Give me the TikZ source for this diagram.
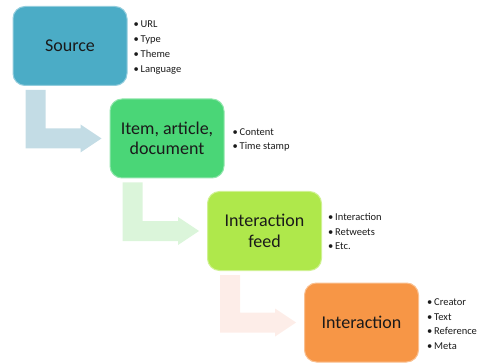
\documentclass[tikz,border=0pt]{standalone}
\usepackage{fontspec}
\setmainfont{Carlito}
\usetikzlibrary{calc}

\definecolor{srcfill}{HTML}{4BACC6}
\definecolor{itemfill}{HTML}{4AD677}
\definecolor{feedfill}{HTML}{AFE84B}
\definecolor{interfill}{HTML}{F79646}
\definecolor{srcarrow}{HTML}{C3DCE5}
\definecolor{itemarrow}{HTML}{DBF5DA}
\definecolor{feedarrow}{HTML}{FDEDE8}
\definecolor{ink}{HTML}{1A1A1A}

% one bullet line of a note list
\newcommand\itm[1]{\makebox[7pt][l]{\textbullet}#1}

% bent block arrow: down out of box #1, then right into box #2
\newcommand\bentarrow[3]{%
  \fill[#3] let \p1=(#1.south west), \p2=(#2.west) in
    (\x1+13pt,\y1-4pt) -- (\x1+33pt,\y1-4pt) -- (\x1+33pt,\y2+10pt)
    -- (\x2-29pt,\y2+10pt) -- (\x2-29pt,\y2+14pt) -- (\x2-8pt,\y2)
    -- (\x2-29pt,\y2-14pt) -- (\x2-29pt,\y2-10pt) -- (\x1+13pt,\y2-10pt)
    -- cycle;}

\begin{document}
\begin{tikzpicture}[x=1pt,y=-1pt,
  stage/.style={rounded corners=12pt, line width=1pt, minimum width=114pt,
    minimum height=79pt, inner sep=0pt, align=center, text=ink,
    font=\fontsize{18}{20.5}\selectfont},
  notes/.style={anchor=west, align=left, inner sep=0pt, text=ink,
    font=\fontsize{10.5}{14.7}\selectfont}]
  \useasboundingbox (0,0) rectangle (481,363);

  % stage boxes
  \node[stage, fill=srcfill, draw=srcfill!60!white] (src) at (70,46) {Source};
  \node[stage, fill=itemfill, draw=itemfill!60!white] (item) at (167,138.5) {Item, article,\\document};
  \node[stage, fill=feedfill, draw=feedfill!60!white] (feed) at (264.5,231) {Interaction\\feed};
  \node[stage, fill=interfill, draw=interfill!60!white] (inter) at (361.5,322.5) {Interaction};

  % attribute lists
  \node[notes] (srcnotes) at ($(src.east)+(6,1.5)$) {\itm{URL}\\\itm{Type}\\\itm{Theme}\\\itm{Language}};
  \node[notes] (itemnotes) at ($(item.east)+(8,1.5)$) {\itm{Content}\\\itm{Time stamp}};
  \node[notes] (feednotes) at ($(feed.east)+(6,0.5)$) {\itm{Interaction}\\\itm{Retweets}\\\itm{Etc.}};
  \node[notes] (internotes) at ($(inter.east)+(8,1.5)$) {\itm{Creator}\\\itm{Text}\\\itm{Reference}\\\itm{Meta}};

  % flow arrows between stages
  \bentarrow{src}{item}{srcarrow}
  \bentarrow{item}{feed}{itemarrow}
  \bentarrow{feed}{inter}{feedarrow}
\end{tikzpicture}
\end{document}
